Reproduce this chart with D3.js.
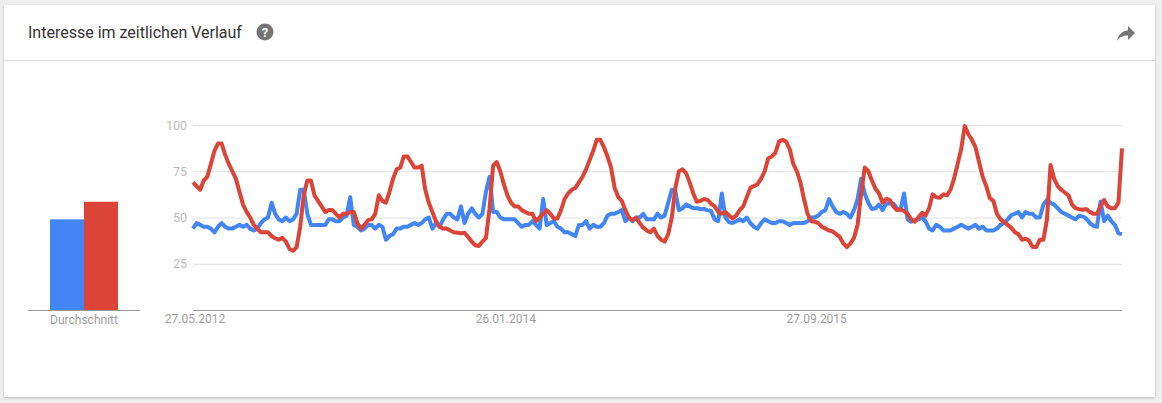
<!DOCTYPE html>
<html><head><meta charset="utf-8">
<script src="https://cdnjs.cloudflare.com/ajax/libs/d3/7.8.5/d3.min.js"></script>
<style>
html,body{margin:0;padding:0;background:#eeeeee;overflow:hidden}
svg{display:block;font-family:Roboto,sans-serif}
</style></head><body>
<svg id="c" width="1162" height="403"></svg>
<script>
const title = "Interesse im zeitlichen Verlauf";
const averageLabel = "Durchschnitt";
const yTicks = [25, 50, 75, 100];
const xTickIndex = [0, 87, 174];
const xTickLabels = ["27.05.2012", "26.01.2014", "27.09.2015"];
const averages = [49, 58.5];
const colors = ["#4285f4", "#db4437"];
const blue = [44,47,46,45,45,44,42,45,47,45,44,44,45,46,45,46,44,43,44,47,49,50,58,52,49,48,50,48,49,52,65,65,52,46,46,46,46,46,49,49,48,48,50,51,61,46,45,43,44,46,46,44,46,45,38,40,41,44,44,45,45,
46,47,46,47,49,50,44,47,45,49,52,52,50,49,56,47,52,55,52,50,52,64,72,53,53,50,49,49,49,49,47,45,46,46,48,46,44,60,46,47,48,45,44,42,42,41,40,46,46,48,44,46,45,45,47,51,52,52,53,54,48,50,48,50,50,52,49,49,49,52,50,
51,58,65,64,54,55,57,56,55,55,54.6,54.6,54,53.5,49,48,63,50,47.5,47,48,49,48,50,47,45,44,47,49,48,47,47,48,48,47,46,47,47,47,47,48,50,50,51,53,54,60,56,53,52,53,52,50,54,60,71,63,58,54.6,55,57,54,57.6,57.6,57.6,
55,54,63,49,47.7,48.6,49,50,48,44,43,46,45,43,43,43,44,45,46,45,44,45,46,44,45,43,43,43,44,46,47,49,51.3,52,53,50,53,52,52,50,50,57,59.5,58,57,55,53,52,51,50,49,51,50.5,49.5,47,45.5,45,58.6,48,51,48,46,41.5,41];
const red = [69,67,65,70,72,79,86,90,90,84,79,75,71,64,57,53,50,46,44,42,42,42,40,38.7,38,39,37,33,32,34,45,62,70,70,62,59,56,53,54,54,52,50,52,52,53,53,47,44,46,48.6,49,52,62,59,58,64,71,76,77,83,83,
80,77,77,78,65,58,53,48,45,44,44,43,42,41.8,41.5,41.8,39.5,37,35,34.6,37,39,55,78,80,75,68,62,58,56,56,54,53,52,52,48,50,52,54,52,49.5,49.5,54,60,63,65,66,69,72,76,81,86,92,92,88,83,77,66,61,59,54,50,48.5,50,47,44.5,43,42,44,40,
38,37,41,50,66,75,76,74,69,63,58.5,59,60,59.5,57.5,56,53,52,53,51,49.5,51,54,56,61,66,67,68,71,75,82,83,85,91,92,91,87,79,75,69,60,52,48,47.7,47,45,44,43,42.5,41,39.5,36,34,36,39,46,63,77,75,70,65.5,63,58,60,59.5,56,
54,54.4,53.5,52,49,47.7,50,52.5,51,55,62.5,61,60.7,62.5,62,65,71,79,87,99.5,95,92,88,80,72,67,60.5,59,52,49,47.5,46,44.5,42,41,38,38.5,37.5,34,34,38,38,49,78.4,71,67,65,63.5,62,57,55,54.5,54.2,54.6,53,52,52,56,59.4,56,55,55,58,87.4];

const svg = d3.select("#c");
// card
svg.append("defs").html('<filter id="s" x="-2%" y="-2%" width="104%" height="106%"><feDropShadow dx="0" dy="1" stdDeviation="1.2" flood-color="#000" flood-opacity="0.22"/></filter>');
svg.append("rect").attr("x",4).attr("y",5).attr("width",1151).attr("height",392).attr("fill","#fff").attr("filter","url(#s)");
svg.append("line").attr("x1",4).attr("x2",1155).attr("y1",60.5).attr("y2",60.5).attr("stroke","#e0e0e0");
svg.append("text").attr("x",28).attr("y",38).attr("font-size",16).attr("fill","#333").text(title);
// help icon
const help = svg.append("g").attr("transform","translate(265,32)");
help.append("circle").attr("r",8.5).attr("fill","#757575");
help.append("text").attr("text-anchor","middle").attr("y",4.5).attr("font-size",13).attr("font-weight",700).attr("fill","#fff").text("?");
// share icon
svg.append("path").attr("transform","translate(1117,26)").attr("fill","#757575")
  .attr("d","M11 0 L18 7 L11 14 L11 9.5 C6 9.5 2.5 11 0 15 C1 9.5 4.5 5 11 4.2 Z");

const y = d3.scaleLinear().domain([0,100]).range([310,125]);
const x = d3.scaleLinear().domain([0,260]).range([193,1122]);

// y grid + labels
const gy = svg.append("g").attr("transform","translate(193,0)")
  .call(d3.axisLeft(y).tickValues(yTicks).tickSize(-929).tickPadding(6));
gy.select(".domain").remove();
gy.selectAll("line").attr("stroke","#e0e0e0");
gy.selectAll("text").attr("fill","#bdbdbd").attr("font-size",12.5).attr("font-family","Roboto");

// x axis
const gx = svg.append("g").attr("transform","translate(0,310.5)")
  .call(d3.axisBottom(x).tickValues(xTickIndex).tickFormat((d,i)=>xTickLabels[i]).tickSize(0).tickPadding(4));
gx.select(".domain").attr("stroke","#999").attr("d",`M${x(0)},0H${x(260)}`);
gx.selectAll("text").attr("fill","#9e9e9e").attr("font-size",12).attr("font-family","Roboto").attr("dx",1.5);

// lines
const line = d3.line().x((d,i)=>x(i)).y(d=>y(d)).curve(d3.curveLinear);
[blue,red].forEach((s,k)=>{
  svg.append("path").datum(s).attr("d",line).attr("fill","none")
    .attr("stroke",colors[k]).attr("stroke-width",4).attr("stroke-linejoin","round");
});

// average bars
const bx = d3.scaleBand().domain(d3.range(averages.length)).range([50,118]).padding(0);
svg.append("g").selectAll("rect").data(averages).join("rect")
  .attr("x",(d,i)=>bx(i)).attr("width",bx.bandwidth())
  .attr("y",d=>y(d)).attr("height",d=>y(0)-y(d))
  .attr("fill",(d,i)=>colors[i]);
svg.append("line").attr("x1",28).attr("x2",140).attr("y1",310.5).attr("y2",310.5).attr("stroke","#999");
svg.append("text").attr("x",84).attr("y",324).attr("text-anchor","middle").attr("font-size",12).attr("fill","#9e9e9e").text(averageLabel);
</script>
</body></html>
